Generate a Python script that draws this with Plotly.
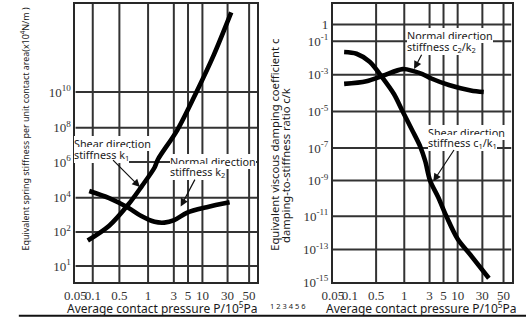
import numpy as np
import plotly.graph_objects as go

# ---------------- data ----------------
# x axis (average contact pressure, 10^5 Pa)
X_TICK_LABELS = ["0.05", "0.1", "0.5", "1", "3", "5", "10", "30", "50"]
X_TICK_VALUES = [0.05, 0.1, 0.5, 1, 3, 5, 10, 30, 50]

# left panel: equivalent spring stiffness
LEFT_Y_TICK_VALUES = [1e1, 1e2, 1e4, 1e6, 1e8, 1e10]
LEFT_Y_TICK_LABELS = ["10<sup>1</sup>", "10<sup>2</sup>", "10<sup>4</sup>", "10<sup>6</sup>",
                      "10<sup>8</sup>", "10<sup>10</sup>"]
P_shear_k = [0.082, 0.27, 0.62, 0.85, 1.32, 1.52, 3.4, 7.7, 16.3, 32.7]
k1_shear = [5.6e1, 2.3e2, 4.0e3, 4.1e4, 4.9e5, 1.4e6, 7.4e7, 1.15e10, 1.2e12, 3.3e14]
P_normal_k = [0.087, 0.27, 0.62, 0.85, 1.32, 2.0, 3.04, 4.86, 12.1, 31.5]
k2_normal = [2.4e4, 9.5e3, 2.6e3, 8.5e2, 3.9e2, 3.5e2, 4.9e2, 1.35e3, 2.8e3, 5.4e3]

# right panel: damping-to-stiffness ratio
RIGHT_Y_TICK_VALUES = [1e-15, 1e-13, 1e-11, 1e-9, 1e-7, 1e-5, 1e-3, 1e-1, 1]
RIGHT_Y_TICK_LABELS = ["10<sup>-15</sup>", "10<sup>-13</sup>", "10<sup>-11</sup>", "10<sup>-9</sup>",
                       "10<sup>-7</sup>", "10<sup>-5</sup>", "10<sup>-3</sup>", "10<sup>-1</sup>", "1"]
P_normal_c = [0.079, 0.275, 0.59, 0.96, 1.5, 2.2, 3.2, 6.5, 17.9, 31.0]
ck_normal = [3.2e-4, 4.5e-4, 8.9e-4, 2.2e-3, 1.66e-3, 1.12e-3, 6.3e-4, 2.8e-4, 1.4e-4, 1.15e-4]
P_shear_c = [0.079, 0.150, 0.336, 0.589, 0.778, 0.955, 1.41, 2.0, 2.48, 3.05, 4.1, 5.76, 10.0, 17.9, 35.1]
ck_shear = [2.3e-2, 1.8e-2, 6.0e-3, 6.6e-4, 8.7e-5, 1.07e-5, 9.5e-7, 1.2e-7, 1.6e-8, 1.0e-9,
            1.2e-10, 1.0e-11, 4.3e-13, 4.4e-14, 1.7e-15]

# ---------------- drawn scale (hand-drawn, non-uniform log) ----------------
X_TICK_POS = [0, 17.8, 45, 74.3, 100.6, 115.1, 129.8, 155.5, 177.5]
X_RANGE = [0, 185.8]
LEFT_Y_SCALE_V = LEFT_Y_TICK_VALUES + [1e15]
LEFT_Y_SCALE_P = [16.3, 51.3, 86.3, 123, 158, 194.7, 285]
RIGHT_Y_SCALE_V = RIGHT_Y_TICK_VALUES + [10 ** 1.2]
RIGHT_Y_SCALE_P = [0, 33.3, 67.3, 104, 137.3, 174.7, 212.3, 246.7, 264, 285]
Y_RANGE = [0, 285]


def scale(vals, anchor_v, anchor_p):
    return np.interp(np.log10(np.asarray(vals, float)), np.log10(anchor_v), anchor_p)


def sx(v):
    return scale(v, X_TICK_VALUES, X_TICK_POS)


W, H = 526, 329
TOP, BOTTOM = 4, 289
YDOM = [(H - BOTTOM) / H, (H - TOP) / H]
LDOM = [65.7 / W, 251.5 / W]
RDOM = [328.7 / W, 511.2 / W]

GRID = "#333333"
LINE = "#282828"
GW = 2
CURVE = dict(color="black", width=4.6, shape="spline", smoothing=0.9)
SERIF = "Liberation Serif"
SANS = "Noto Sans"

fig = go.Figure()

# grid: one line trace per grid line, beneath the curves
def grid_line(xs, ys, xa, ya):
    fig.add_trace(go.Scatter(x=xs, y=ys, mode="lines", line=dict(color=GRID, width=GW),
                             hoverinfo="skip", xaxis=xa, yaxis=ya))


for i, p in enumerate(X_TICK_POS):
    if i > 0:
        grid_line([p, p], Y_RANGE, "x", "y")
    if i > 1:  # right panel has no 0.1 grid line
        grid_line([p, p], Y_RANGE, "x2", "y2")
for p in LEFT_Y_SCALE_P[:-1]:
    grid_line(X_RANGE, [p, p], "x", "y")
for p in RIGHT_Y_SCALE_P[1:-1]:
    grid_line(X_RANGE, [p, p], "x2", "y2")

fig.add_trace(go.Scatter(x=sx(P_shear_k), y=scale(k1_shear, LEFT_Y_SCALE_V, LEFT_Y_SCALE_P),
                         mode="lines", line=CURVE, xaxis="x", yaxis="y", name="Shear k1"))
fig.add_trace(go.Scatter(x=sx(P_normal_k), y=scale(k2_normal, LEFT_Y_SCALE_V, LEFT_Y_SCALE_P),
                         mode="lines", line=CURVE, xaxis="x", yaxis="y", name="Normal k2"))
fig.add_trace(go.Scatter(x=sx(P_normal_c), y=scale(ck_normal, RIGHT_Y_SCALE_V, RIGHT_Y_SCALE_P),
                         mode="lines", line=CURVE, xaxis="x2", yaxis="y2", name="Normal c2/k2"))
fig.add_trace(go.Scatter(x=sx(P_shear_c), y=scale(ck_shear, RIGHT_Y_SCALE_V, RIGHT_Y_SCALE_P),
                         mode="lines", line=CURVE, xaxis="x2", yaxis="y2", name="Shear c1/k1"))

axis_common = dict(showline=True, mirror=True, linecolor=LINE, linewidth=2, zeroline=False,
                   ticks="", tickfont=dict(family=SERIF, size=13, color="#333"), tickangle=0,
                   showgrid=False, fixedrange=True)

fig.update_layout(
    width=W, height=H, margin=dict(l=0, r=0, t=0, b=0),
    paper_bgcolor="white", plot_bgcolor="white", showlegend=False,
    xaxis=dict(domain=LDOM, range=X_RANGE, tickvals=X_TICK_POS, ticktext=X_TICK_LABELS,
               anchor="y", **axis_common),
    yaxis=dict(domain=YDOM, range=Y_RANGE, tickvals=LEFT_Y_SCALE_P[:-1], ticktext=LEFT_Y_TICK_LABELS,
               anchor="x", **axis_common),
    xaxis2=dict(domain=RDOM, range=X_RANGE, tickvals=X_TICK_POS, ticktext=X_TICK_LABELS,
                anchor="y2", **axis_common),
    yaxis2=dict(domain=YDOM, range=Y_RANGE, tickvals=RIGHT_Y_SCALE_P[:-1], ticktext=RIGHT_Y_TICK_LABELS,
                anchor="x2", **axis_common),
)

fig.update_layout(shapes=[dict(type="line", xref="paper", yref="paper", x0=8 / W, x1=1,
                               y0=(H - 323.5) / H, y1=(H - 323.5) / H, line=dict(color="#111", width=2))])


def px(x):
    return x / W


def py(y):
    return 1 - y / H


anns = []


def label(x, y, text, size=11, xanchor="left", yanchor="middle", bg="white", angle=0, family=SANS,
          color="#1a1a1a"):
    a = dict(x=px(x), y=py(y), xref="paper", yref="paper", text=text, showarrow=False,
             xanchor=xanchor, yanchor=yanchor, borderpad=0, borderwidth=0, textangle=angle,
             font=dict(family=family, size=size, color=color))
    if bg:
        a["bgcolor"] = bg
    anns.append(a)


def arrow(hx, hy, tx, ty):
    anns.append(dict(x=px(hx), y=py(hy), xref="paper", yref="paper", text="", showarrow=True,
                     ax=tx - hx, ay=ty - hy, axref="pixel", ayref="pixel", arrowhead=2,
                     arrowsize=1.3, arrowwidth=1.2, arrowcolor="#111", standoff=0))


# curve labels
label(64, 147.5, "Shear direction", size=10.8)
label(64, 158.5, "stiffness k<sub>1</sub>", size=10.8)
label(162, 166, "Normal direction", size=10.8)
label(162, 176.5, "stiffness k<sub>2</sub>", size=10.8)
label(404, 36.5, "Normal direction", size=10.8)
label(404, 48, "stiffness c<sub>2</sub>/k<sub>2</sub>", size=10.8)
label(426, 136, "Shear direction", size=10.8)
label(426, 146.5, "stiffness c<sub>1</sub>/k<sub>1</sub>", size=10.8)
arrow(131.7, 191.7, 103.3, 163.3)
arrow(173.3, 211.7, 188.3, 183.3)
arrow(411.7, 70.7, 420, 55)
arrow(431.3, 186, 453, 153)

# axis titles
label(14, 132, "Equivalent spring stiffness per unit contact area(x10<sup>4</sup>N/m )", size=8.9,
      xanchor="center", yanchor="middle", bg=None, angle=-90)
label(269, 148, "Equivalent viscous damping coefficient c", size=11.2,
      xanchor="center", yanchor="middle", bg=None, angle=-90)
label(281, 170, "damping-to-stiffness ratio c/k", size=11.2,
      xanchor="center", yanchor="middle", bg=None, angle=-90)
label(155, 316, "Average contact pressure P/10<sup>5</sup>Pa", size=12, xanchor="center", bg=None)
label(419, 316, "Average contact pressure P/10<sup>5</sup>Pa", size=12, xanchor="center", bg=None)
label(283, 314, "1 2 3 4 5 6", size=7.5, xanchor="center", bg=None)

fig.update_layout(annotations=anns)

fig.write_html("out.html")
